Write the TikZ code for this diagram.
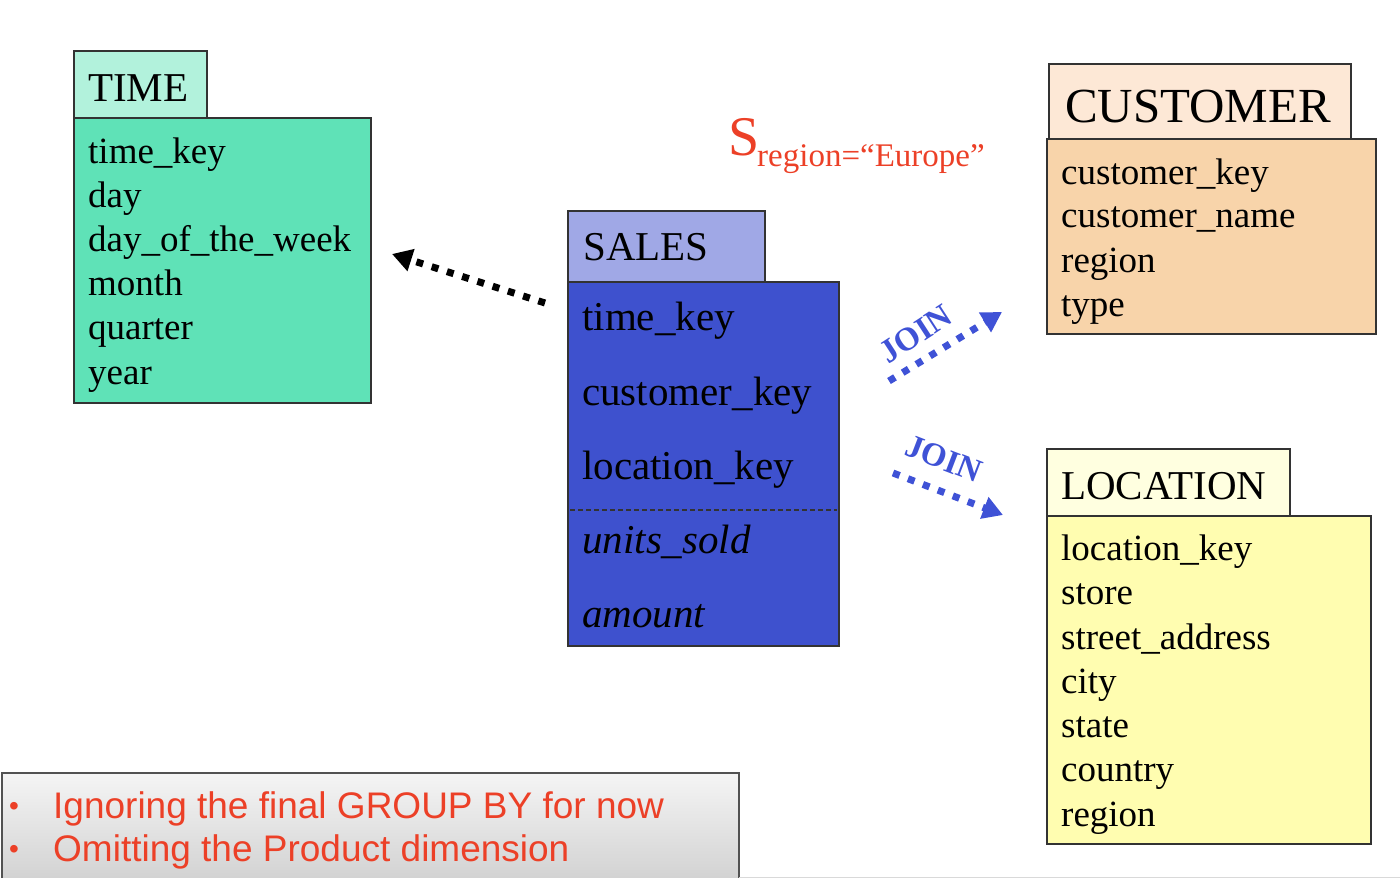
\documentclass[tikz,border=0pt]{standalone}
\usepackage{fontspec}
\setmainfont{Liberation Serif}
\newfontfamily\notefont{Liberation Sans}
\usetikzlibrary{arrows.meta,shadings}
\definecolor{timetab}{HTML}{B2F2DC}
\definecolor{timebody}{HTML}{5FE2B7}
\definecolor{custtab}{HTML}{FDE8D6}
\definecolor{custbody}{HTML}{F8D4AA}
\definecolor{salestab}{HTML}{A0A8E6}
\definecolor{salesbody}{HTML}{3E51CE}
\definecolor{loctab}{HTML}{FFFFE0}
\definecolor{locbody}{HTML}{FFFDB0}
\definecolor{redtxt}{HTML}{EC4027}
\definecolor{joinblue}{HTML}{3F52D6}
\definecolor{edge}{HTML}{333333}
\tikzset{
  boxshape/.style={draw=edge, line width=1.5pt, inner sep=0pt, anchor=north west},
  tabtxt/.style={anchor=base west, inner sep=0pt, font=\fontsize{41}{44}\selectfont},
  fieldtxt/.style={anchor=base west, inner sep=0pt, font=\fontsize{37}{44}\selectfont},
  salestxt/.style={anchor=base west, inner sep=0pt, font=\fontsize{41}{44}\selectfont},
  dotarrow/.style={line width=7pt, dash pattern=on 7pt off 9pt, -{Triangle[length=20pt,width=22pt]}},
  jointxt/.style={inner sep=0pt, text=joinblue, font=\fontsize{33}{34}\selectfont\bfseries},
  notetxt/.style={anchor=base west, inner sep=0pt, text=redtxt, font=\notefont\fontsize{37}{40}\selectfont},
}
\begin{document}
\begin{tikzpicture}[x=1pt,y=-1pt]
\useasboundingbox (0,0) rectangle (1400,878);
% TIME
\node[boxshape, fill=timetab, minimum width=133pt, minimum height=67pt] (timetab) at (73,50) {};
\node[boxshape, fill=timebody, minimum width=297pt, minimum height=285pt] (timebody) at (73,117) {};
\node[tabtxt] (timetitle) at (88,101) {TIME};
\node[fieldtxt] (t1) at (88,163) {time\_key};
\node[fieldtxt] (t2) at (88,207) {day};
\node[fieldtxt] (t3) at (88,251) {day\_of\_the\_week};
\node[fieldtxt] (t4) at (88,295) {month};
\node[fieldtxt] (t5) at (88,339) {quarter};
\node[fieldtxt] (t6) at (88,384) {year};
% CUSTOMER
\node[boxshape, fill=custtab, minimum width=302pt, minimum height=75pt] (custtab) at (1048,63) {};
\node[boxshape, fill=custbody, minimum width=329pt, minimum height=195pt] (custbody) at (1046,138) {};
\node[anchor=base west, inner sep=0pt, font=\fontsize{49}{52}\selectfont] (custtitle) at (1065,122) {CUSTOMER};
\node[fieldtxt] (c1) at (1061,184) {customer\_key};
\node[fieldtxt] (c2) at (1061,227) {customer\_name};
\node[fieldtxt] (c3) at (1061,272) {region};
\node[fieldtxt] (c4) at (1061,316) {type};
% SALES
\node[boxshape, fill=salestab, minimum width=197pt, minimum height=71pt] (salestab) at (567,210) {};
\node[boxshape, fill=salesbody, minimum width=271pt, minimum height=364pt] (salesbody) at (567,281) {};
\node[tabtxt] (salestitle) at (583,260) {SALES};
\node[salestxt] (s1) at (582,330) {time\_key};
\node[salestxt] (s2) at (582,405) {customer\_key};
\node[salestxt] (s3) at (582,479) {location\_key};
\coordinate (dashL) at (570,510);
\coordinate (dashR) at (837,510);
\draw[edge, line width=1.3pt, dash pattern=on 5pt off 3pt] (dashL) -- (dashR);
\node[salestxt, font=\fontsize{41}{44}\selectfont\itshape] (s4) at (582,553) {units\_sold};
\node[salestxt, font=\fontsize{41}{44}\selectfont\itshape] (s5) at (582,627) {amount};
% LOCATION
\node[boxshape, fill=loctab, minimum width=243pt, minimum height=67pt] (loctab) at (1046,448) {};
\node[boxshape, fill=locbody, minimum width=324pt, minimum height=328pt] (locbody) at (1046,515) {};
\node[tabtxt] (loctitle) at (1061,499) {LOCATION};
\node[fieldtxt] (l1) at (1061,560) {location\_key};
\node[fieldtxt] (l2) at (1061,604) {store};
\node[fieldtxt] (l3) at (1061,649) {street\_address};
\node[fieldtxt] (l4) at (1061,693) {city};
\node[fieldtxt] (l5) at (1061,737) {state};
\node[fieldtxt] (l6) at (1061,781) {country};
\node[fieldtxt] (l7) at (1061,826) {region};
% selection
\node[anchor=base west, inner sep=0pt, text=redtxt, font=\fontsize{56}{58}\selectfont] (sel) at (728,155) {S};
\node[anchor=base west, inner sep=0pt, text=redtxt, font=\fontsize{33}{36}\selectfont] (selsub) at (757,166) {region=“Europe”};
% arrows
\coordinate (a1s) at (545,303);
\coordinate (a1e) at (392,254);
\draw[dotarrow, black] (a1s) -- (a1e);
\coordinate (a2s) at (889,381);
\coordinate (a2e) at (1002,312);
\draw[dotarrow, joinblue] (a2s) -- (a2e);
\coordinate (a3s) at (893,473);
\coordinate (a3e) at (1003,515);
\draw[dotarrow, joinblue] (a3s) -- (a3e);
\node[jointxt, rotate=33] (join1) at (916,334) {JOIN};
\node[jointxt, rotate=-21] (join2) at (944,459) {JOIN};
% note box
\node[boxshape, draw=edge!85, line width=2pt, top color=gray!8, bottom color=gray!35, minimum width=737pt, minimum height=106pt] (note) at (1,772) {};
\node[anchor=base west, inner sep=0pt, text=redtxt, font=\notefont\fontsize{28}{30}\selectfont] (b1) at (9,815) {•};
\node[anchor=base west, inner sep=0pt, text=redtxt, font=\notefont\fontsize{28}{30}\selectfont] (b2) at (9,858) {•};
\node[notetxt] (n1) at (53,818) {Ignoring the final GROUP BY for now};
\node[notetxt] (n2) at (53,861) {Omitting the Product dimension};
\coordinate (bl1) at (739,877.5);
\coordinate (bl2) at (1400,877.5);
\draw[gray!30, line width=1pt] (bl1) -- (bl2);
\end{tikzpicture}
\end{document}
